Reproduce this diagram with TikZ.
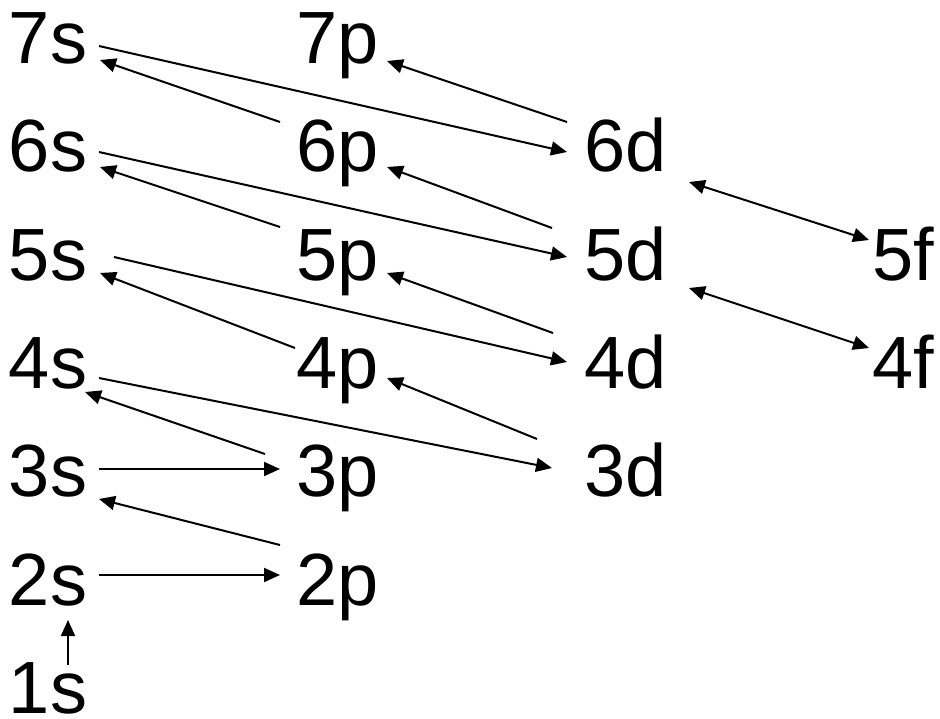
\documentclass[tikz,border=0pt]{standalone}
\usepackage{fontspec}
\setmainfont{Liberation Sans}
\usetikzlibrary{arrows.meta}
\begin{document}
\begin{tikzpicture}[x=1pt,y=-1pt,
  orb/.style={anchor=base west,inner sep=0pt,outer sep=0pt,text depth=0pt,font=\fontsize{74}{74}\selectfont},
  con/.style={line width=2pt,-{Triangle[length=16pt,width=14pt]}},
  bicon/.style={line width=2pt,{Triangle[length=16pt,width=14pt]}-{Triangle[length=16pt,width=14pt]}}]
\useasboundingbox (0,0) rectangle (940,718);
% s column
\node[orb] (s7) at (9,63) {7s};
\node[orb] (s6) at (9,171) {6s};
\node[orb] (s5) at (9,280) {5s};
\node[orb] (s4) at (9,388) {4s};
\node[orb] (s3) at (9,496) {3s};
\node[orb] (s2) at (9,605) {2s};
\node[orb] (s1) at (9,713) {1s};
% p column
\node[orb] (p7) at (296,63) {7p};
\node[orb] (p6) at (296,171) {6p};
\node[orb] (p5) at (296,280) {5p};
\node[orb] (p4) at (296,388) {4p};
\node[orb] (p3) at (296,496) {3p};
\node[orb] (p2) at (296,605) {2p};
% d column
\node[orb] (d6) at (584,171) {6d};
\node[orb] (d5) at (584,280) {5d};
\node[orb] (d4) at (584,388) {4d};
\node[orb] (d3) at (584,496) {3d};
% f column
\node[orb] (f5) at (872,280) {5f};
\node[orb] (f4) at (872,388) {4f};
% connectors
\draw[con] ([shift={(59,-48)}]s1.base west) -- ([shift={(59,15)}]s2.base west);
\draw[con] ([shift={(90,-30)}]s2.base west) -- ([shift={(-16,-30)}]p2.base west);
\draw[con] ([shift={(-16,-60)}]p2.base west) -- ([shift={(90,3)}]s3.base west);
\draw[con] ([shift={(90,-27)}]s3.base west) -- ([shift={(-16,-27)}]p3.base west);
\draw[con] ([shift={(-31,-42)}]p3.base west) -- ([shift={(76,4)}]s4.base west);
\draw[con] ([shift={(-47,-57)}]d3.base west) -- ([shift={(91,-10)}]p4.base west);
\draw[con] ([shift={(90,-10)}]s4.base west) -- ([shift={(-32,-28)}]d3.base west);
\draw[con] ([shift={(-1,-40)}]p4.base west) -- ([shift={(91,-7)}]s5.base west);
\draw[con] ([shift={(-31,-55)}]d4.base west) -- ([shift={(91,-7)}]p5.base west);
\draw[con] ([shift={(105,-23)}]s5.base west) -- ([shift={(-17,-26)}]d4.base west);
\draw[con] ([shift={(-32,-52)}]d5.base west) -- ([shift={(91,-4)}]p6.base west);
\draw[con] ([shift={(-16,-53)}]p5.base west) -- ([shift={(91,-4)}]s6.base west);
\draw[con] ([shift={(90,-19)}]s6.base west) -- ([shift={(-17,-23)}]d5.base west);
\draw[con] ([shift={(-17,-49)}]d6.base west) -- ([shift={(91,-2)}]p7.base west);
\draw[con] ([shift={(-16,-49)}]p6.base west) -- ([shift={(91,-3)}]s7.base west);
\draw[con] ([shift={(90,-17)}]s7.base west) -- ([shift={(-17,-19)}]d6.base west);
\draw[bicon] ([shift={(105,11)}]d6.base west) -- ([shift={(-3,-40)}]f5.base west);
\draw[bicon] ([shift={(105,8)}]d5.base west) -- ([shift={(-3,-40)}]f4.base west);
\end{tikzpicture}
\end{document}
